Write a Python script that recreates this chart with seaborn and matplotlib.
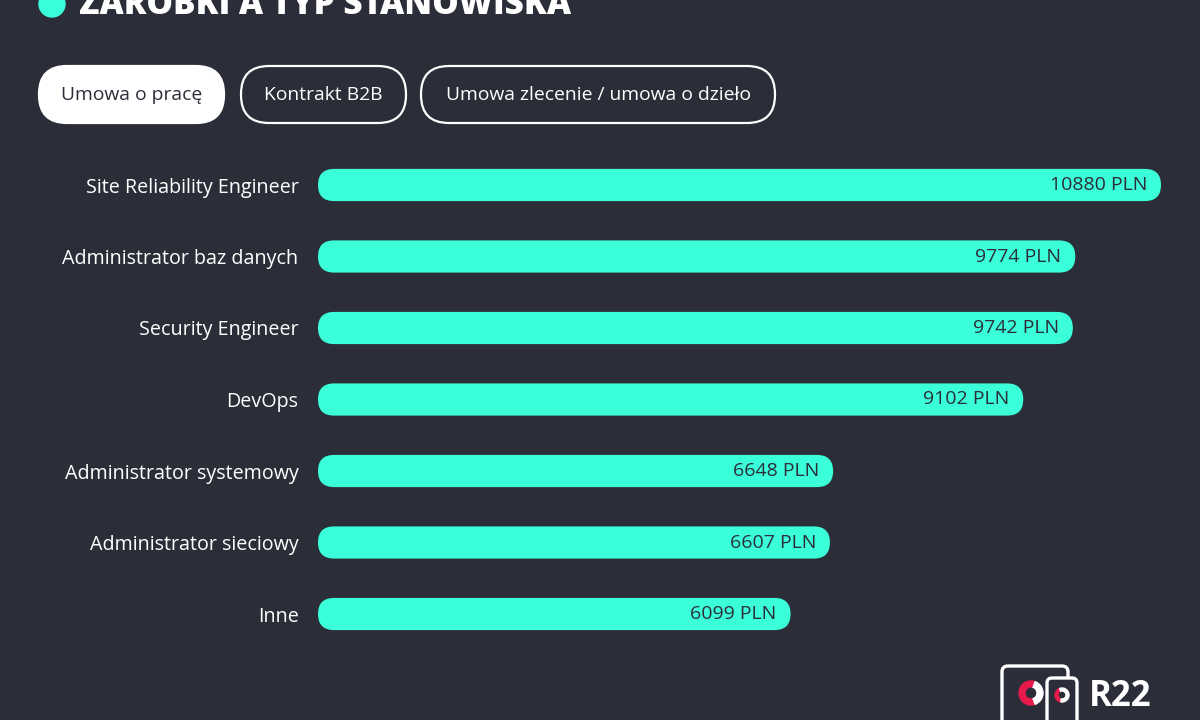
import matplotlib.pyplot as plt
import seaborn as sns
import pandas as pd
from matplotlib.patches import FancyBboxPatch, Circle, Wedge

# data
positions = [
    "Site Reliability Engineer",
    "Administrator baz danych",
    "Security Engineer",
    "DevOps",
    "Administrator systemowy",
    "Administrator sieciowy",
    "Inne",
]
salaries = [10880, 9774, 9742, 9102, 6648, 6607, 6099]
contract_tabs = ["Umowa o pracę", "Kontrakt B2B", "Umowa zlecenie / umowa o dzieło"]
title = "ZAROBKI A TYP STANOWISKA"

BG = "#2b2e38"
BAR = "#3bffd9"
RED = "#e8194b"

sns.set_style("dark", {"axes.facecolor": BG, "figure.facecolor": BG})
plt.rcParams["font.family"] = ["Open Sans", "DejaVu Sans"]

df = pd.DataFrame({"stanowisko": positions, "pln": salaries})

fig = plt.figure(figsize=(12, 7.2), dpi=100)
ax = fig.add_axes([318 / 1200, (720 - 649.75) / 720, 843 / 1200, 500.5 / 720])
sns.barplot(data=df, x="pln", y="stanowisko", color=BAR, saturation=1,
            width=0.45, ax=ax)
ax.set_xlim(0, max(salaries))
ax.set_ylim(len(positions) - 0.5, -0.5)
fig.canvas.draw()

# swap the square bars for pill shaped ones of the same size
x_px = abs(ax.transData.transform((1, 0))[0] - ax.transData.transform((0, 0))[0])
y_px = abs(ax.transData.transform((0, 1))[1] - ax.transData.transform((0, 0))[1])
for bar in list(ax.patches):
    x0, y0, w, h = bar.get_x(), bar.get_y(), bar.get_width(), bar.get_height()
    r = h * y_px / 2 / x_px
    pill = FancyBboxPatch((x0, y0), w, h,
                          boxstyle=f"round,pad=0,rounding_size={r}",
                          mutation_aspect=x_px / y_px,
                          facecolor=BAR, edgecolor="none")
    bar.remove()
    ax.add_patch(pill)

for i, val in enumerate(salaries):
    ax.annotate(f"{val} PLN", (val, i), xytext=(-14, 0), textcoords="offset pixels",
                ha="right", va="center", color=BG, fontsize=14)

ax.set_xlabel("")
ax.set_ylabel("")
ax.set_xticks([])
ax.tick_params(axis="y", length=0, pad=14, labelcolor="white", labelsize=14.2)
for s in ax.spines.values():
    s.set_visible(False)
ax.grid(False)

# overlay in pixel units for header, tabs and logo
ov = fig.add_axes([0, 0, 1, 1])
ov.set_xlim(0, 1200)
ov.set_ylim(720, 0)
ov.axis("off")
ov.patch.set_visible(False)

ov.add_patch(Circle((52, 4), 13, color=BAR))
ov.text(79, 14, title, color="white", fontsize=24, fontweight="heavy",
        ha="left", va="baseline")

tabs = [(39, 224), (241, 406), (421, 775)]
for k, (label, (a, b)) in enumerate(zip(contract_tabs, tabs)):
    active = k == 0
    ov.add_patch(FancyBboxPatch((a, 66), b - a, 57,
                                boxstyle="round,pad=0,rounding_size=28",
                                facecolor="white" if active else "none",
                                edgecolor="white", linewidth=1.6))
    ov.text((a + b) / 2, 95, label, ha="center", va="center", fontsize=13.9,
            color=BG if active else "white")

# R22 logo
ov.add_patch(FancyBboxPatch((1002, 666), 66, 62, boxstyle="round,pad=0,rounding_size=6",
                            facecolor="none", edgecolor="white", linewidth=2.4))
ov.add_patch(FancyBboxPatch((1047, 678), 30, 50, boxstyle="round,pad=0,rounding_size=5",
                            facecolor=BG, edgecolor="white", linewidth=2.4))
ov.add_patch(Wedge((1031, 693), 12, 70, 290, width=6, color=RED))
ov.add_patch(Wedge((1031, 693), 12, 290, 70, width=6, color="white"))
ov.add_patch(Wedge((1062, 695), 7, 100, 250, width=3, color=RED))
ov.add_patch(Wedge((1062, 695), 7, 250, 100, width=3, color="white"))
ov.text(1089, 697, "R22", color="white", fontsize=25, fontweight="bold",
        ha="left", va="center")

fig.savefig("out.png", dpi=100, facecolor=BG)
